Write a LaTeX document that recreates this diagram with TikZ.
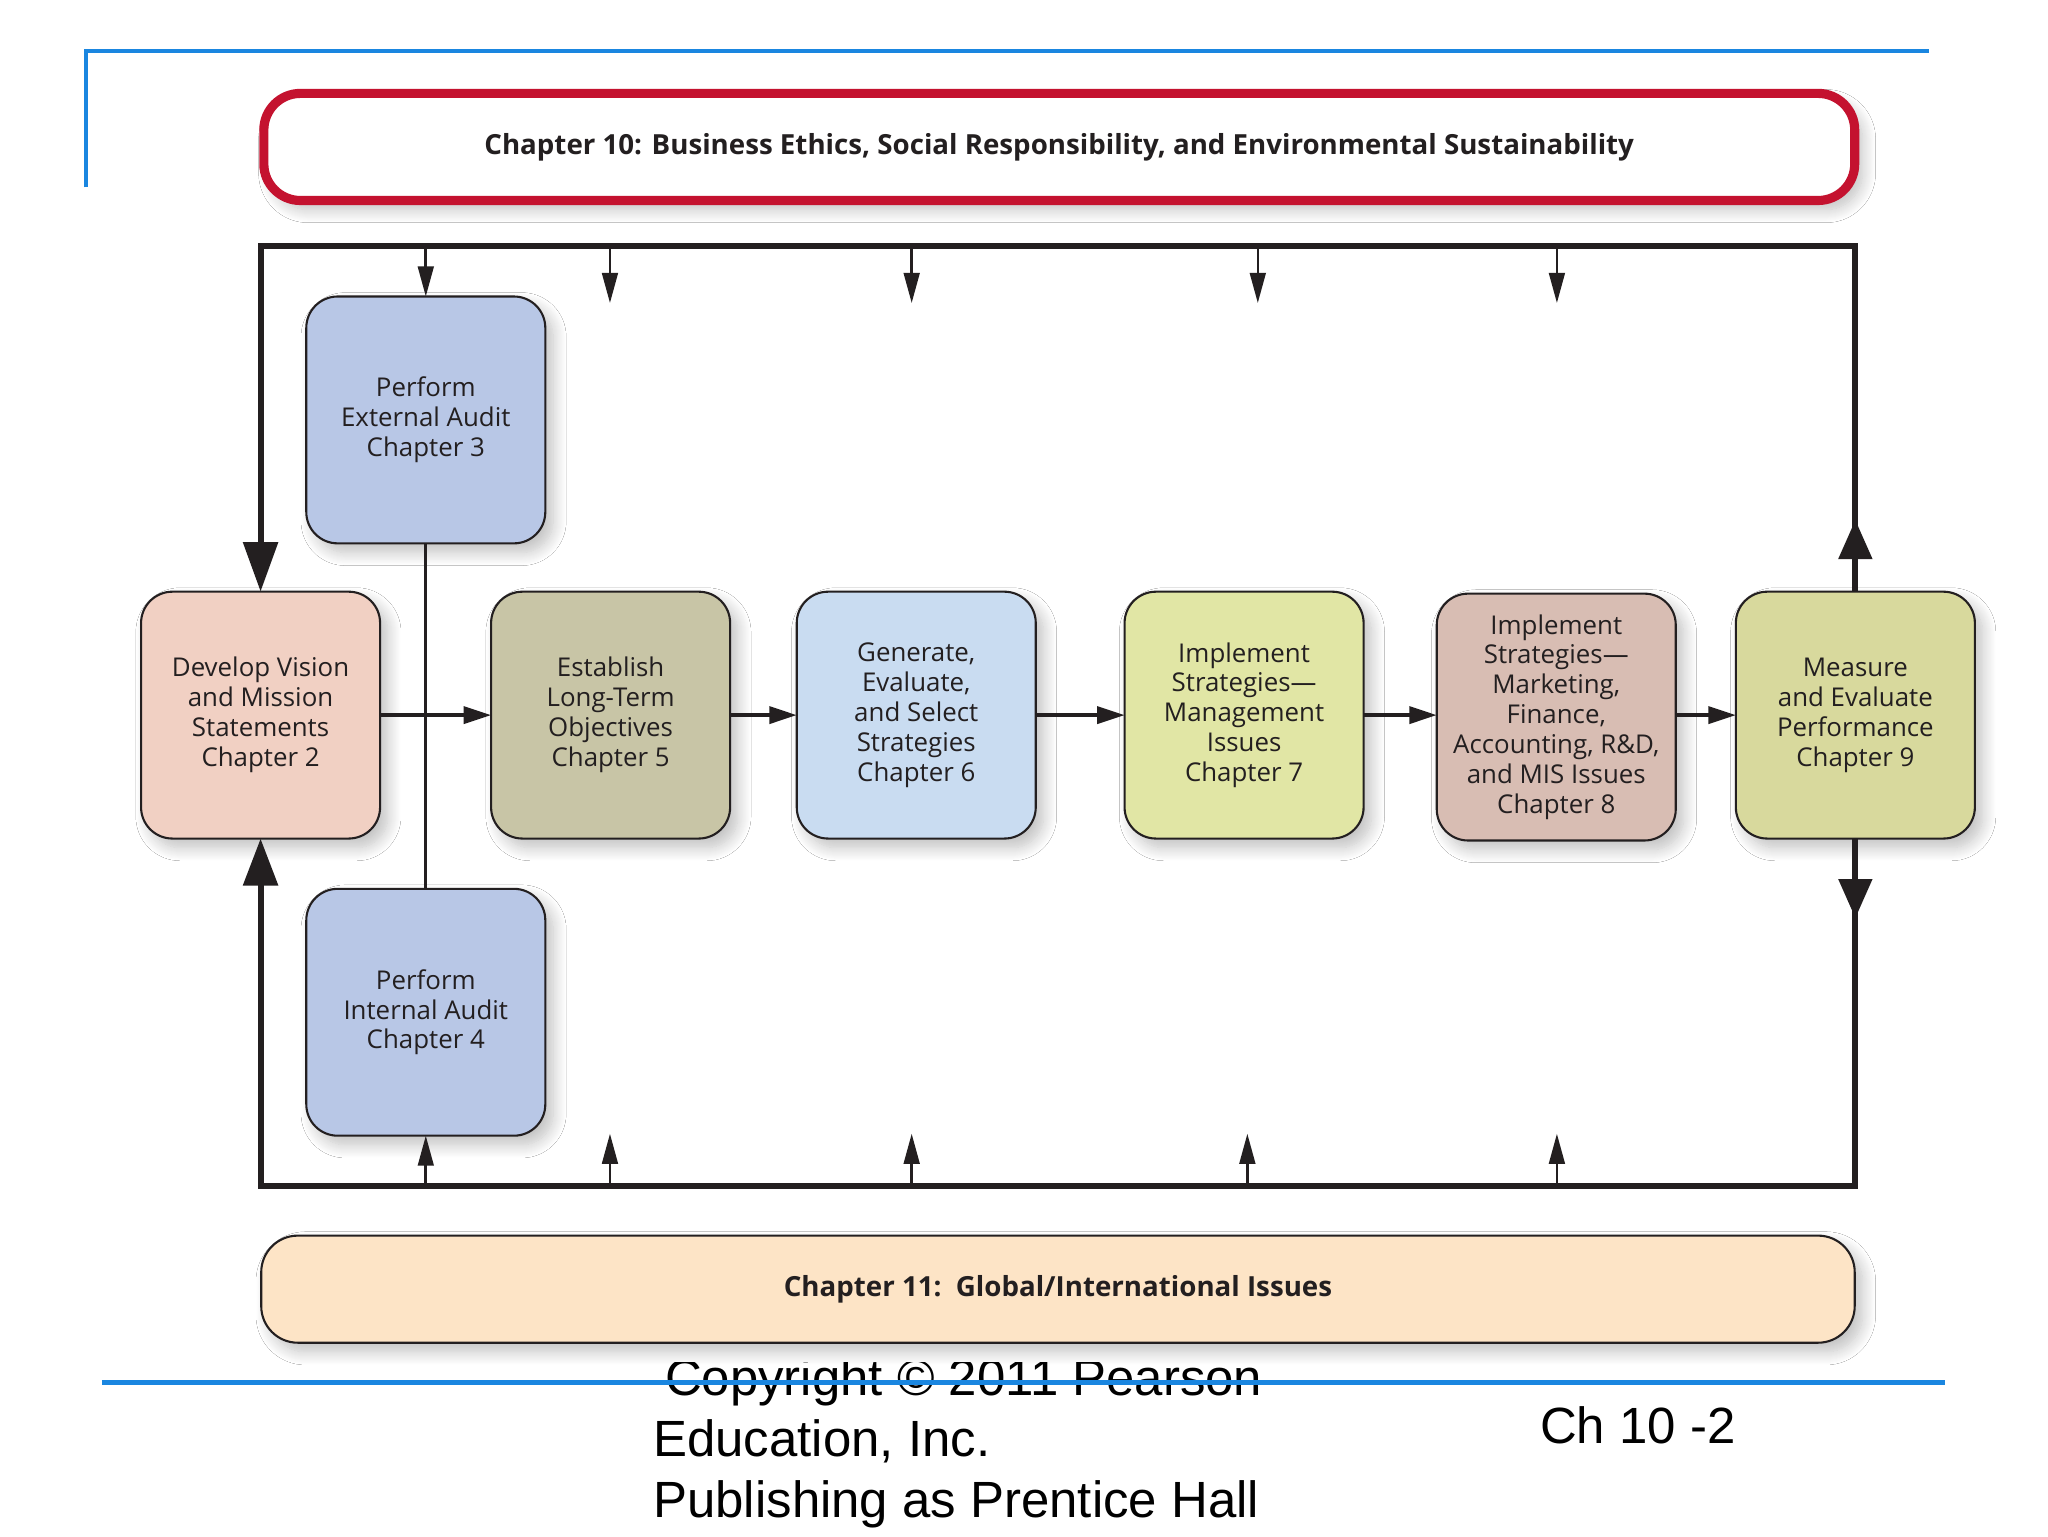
\documentclass[tikz,border=0pt]{standalone}
\usepackage{fontspec}
\setmainfont{Open Sans}
\newfontfamily\arialfont{Liberation Sans}
\usetikzlibrary{arrows.meta,shadows.blur}
\definecolor{blueline}{HTML}{1A86E0}
\definecolor{redc}{HTML}{C4122F}
\definecolor{boxline}{HTML}{231F20}
\definecolor{txt}{HTML}{231F20}
\definecolor{cdev}{HTML}{F1D0C3}
\definecolor{cest}{HTML}{C8C5A6}
\definecolor{cgen}{HTML}{C9DCF1}
\definecolor{cimpa}{HTML}{E1E6A5}
\definecolor{cimpb}{HTML}{D8BDB3}
\definecolor{cmeas}{HTML}{D8D99D}
\definecolor{caud}{HTML}{B8C7E6}
\definecolor{cchb}{HTML}{FDE4C6}
\tikzset{
  softshadow/.style={blur shadow={shadow xshift=6pt, shadow yshift=-7pt, shadow blur radius=10pt, shadow blur steps=14, shadow opacity=25}},
  box/.style={draw=boxline, line width=1.6pt, rounded corners=24pt, minimum width=183pt, minimum height=189pt,
    inner sep=0pt, outer sep=0pt, align=center, text=txt, font=\fontsize{19.8}{22.9}\selectfont, softshadow},
  band/.style={rounded corners=28pt, minimum width=1220pt, minimum height=82pt, inner sep=0pt, outer sep=0pt,
    text=txt, font=\bfseries\fontsize{21.2}{26}\selectfont, softshadow},
  frame/.style={draw=boxline, line width=4.6pt, line join=miter},
  small/.style={draw=boxline, line width=2pt, -{Triangle[length=23pt,width=12pt]}},
  harrow/.style={draw=boxline, line width=2.8pt, -{Triangle[length=21pt,width=13pt]}},
  foot/.style={anchor=base west, inner sep=0pt, text=black, font=\arialfont\fontsize{39}{46.6}\selectfont}
}
\begin{document}
\begin{tikzpicture}[x=1pt,y=-1pt]
\useasboundingbox[fill=white] (0,0) rectangle (1568,1176);

% header rule
\draw[blueline, line width=3pt] (65.5,143.5) -- (65.5,39.3) -- (1477,39.3);

% bands
\node[band, draw=redc, line width=7pt, fill=white, minimum width=1218pt, minimum height=82pt] (chx) at (811,112.5)
  {Chapter 10: Business Ethics, Social Responsibility, and Environmental Sustainability};
\node[band, draw=boxline, line width=1.6pt, fill=cchb] (chy) at (810,987)
  {Chapter 11:\ \ Global/International Issues};

% boxes
\node[box, fill=cdev]  (dev)  at (199.5,547.5) {Develop Vision\\and Mission\\Statements\\Chapter 2};
\node[box, fill=cest]  (est)  at (467.5,547.5) {Establish\\Long-Term\\Objectives\\Chapter 5};
\node[box, fill=cgen]  (gen)  at (701.5,547.5) {Generate,\\Evaluate,\\and Select\\Strategies\\Chapter 6};
\node[box, fill=cimpa] (impa) at (952.5,547.5) {Implement\\Strategies—\\Management\\Issues\\Chapter 7};
\node[box, fill=cimpb] (impb) at (1191.5,549) {Implement\\Strategies—\\Marketing,\\Finance,\\Accounting, R\&D,\\and MIS Issues\\Chapter 8};
\node[box, fill=cmeas] (meas) at (1420.5,547.5) {Measure\\and Evaluate\\Performance\\Chapter 9};
\node[box, fill=caud]  (ext)  at (326,321.5) {Perform\\External Audit\\Chapter 3};
\node[box, fill=caud]  (int)  at (326,775) {Perform\\Internal Audit\\Chapter 4};

% frame
\coordinate (tl) at (199.5,188);
\coordinate (tr) at (1420.5,188);
\coordinate (bl) at (199.5,908);
\coordinate (br) at (1420.5,908);
\coordinate (mup) at (1420.5,398);
\coordinate (mdn) at (1420.5,703);
\draw[frame, {Triangle[length=38pt,width=26pt]}-] (dev.north) -- (tl) -- (tr) -- (meas.north);
\draw[frame, {Triangle[length=36pt,width=26pt]}-] (dev.south) -- (bl) -- (br) -- (meas.south);
\draw[frame, -{Triangle[length=30pt,width=25pt]}] (meas.north) -- (mup);
\draw[frame, -{Triangle[length=30pt,width=25pt]}] (meas.south) -- (mdn);

% small arrows from the frame
\draw[small] (ext.north |- tl) -- (ext.north);
\draw[small] (int.south |- bl) -- (int.south);
\coordinate (ta) at (467,232);  \coordinate (tb) at (698,232);
\coordinate (tc) at (963,232);  \coordinate (td) at (1192,232);
\coordinate (ba) at (467,868);  \coordinate (bb) at (698,868);
\coordinate (bc) at (955,868);  \coordinate (bd) at (1192,868);
\foreach \p in {ta,tb,tc,td} \draw[small] (\p |- tl) -- (\p);
\foreach \p in {ba,bb,bc,bd} \draw[small] (\p |- bl) -- (\p);

% audit link and main flow
\draw[draw=boxline, line width=2.5pt] (ext) -- (int);
\draw[harrow] (dev) -- (est);
\draw[harrow] (est) -- (gen);
\draw[harrow] (gen) -- (impa);
\draw[harrow] (impa.east) -- (impb.west |- impa.east);
\draw[harrow] (impb.east |- meas.west) -- (meas.west);

% footer
\begin{scope}
\clip (0,1043) rectangle (1568,1176);
\node[foot] (cpa) at (509,1068.5) {Copyright © 2011 Pearson};
\end{scope}
\node[foot] (cpb) at (500,1115.2) {Education, Inc.};
\node[foot] (cpc) at (500,1161.8) {Publishing as Prentice Hall};
\node[foot] (pg) at (1179,1105.5) {Ch 10 -2};
\draw[blueline, line width=3.5pt] (78,1058.5) -- (1489,1058.5);
\end{tikzpicture}
\end{document}
